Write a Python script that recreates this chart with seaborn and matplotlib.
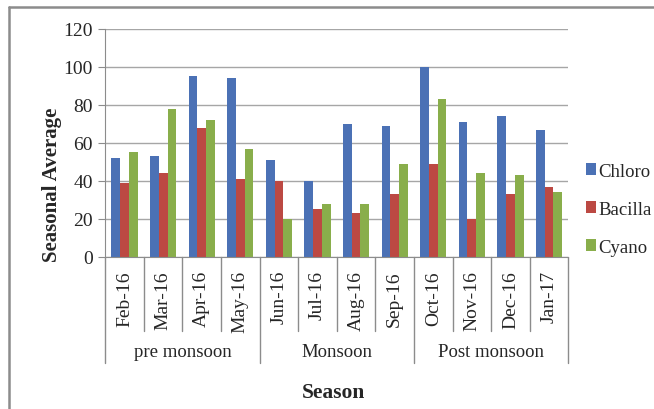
import pandas as pd
import matplotlib.pyplot as plt
import matplotlib.transforms as mtransforms
from matplotlib.lines import Line2D
import seaborn as sns

months = ['Feb-16', 'Mar-16', 'Apr-16', 'May-16', 'Jun-16', 'Jul-16',
          'Aug-16', 'Sep-16', 'Oct-16', 'Nov-16', 'Dec-16', 'Jan-17']
seasons = ['pre monsoon', 'Monsoon', 'Post monsoon']
chloro = [52, 53, 95, 94, 51, 40, 70, 69, 100, 71, 74, 67]
bacilla = [39, 44, 68, 41, 40, 25, 23, 33, 49, 20, 33, 37]
cyano = [55, 78, 72, 57, 20, 28, 28, 49, 83, 44, 43, 34]

df = pd.DataFrame({'Month': months, 'Chloro': chloro,
                   'Bacilla': bacilla, 'Cyano': cyano})
long = df.melt(id_vars='Month', var_name='Group', value_name='Value')

sns.set_style('white')
plt.rcParams['font.family'] = ['Liberation Serif', 'DejaVu Serif']

fig = plt.figure(figsize=(6.54, 4.10), dpi=100)
ax = fig.add_axes([0.161, 0.371, 0.708, 0.556])

colors = ['#3A6CC6', '#D0372F', '#8DBE3B']
sns.barplot(data=long, x='Month', y='Value', hue='Group', order=months,
            palette=colors, width=0.68, gap=0.0, edgecolor='none', ax=ax)

ax.set_ylim(0, 120)
ax.set_xlim(-0.5, len(months) - 0.5)
ax.set_yticks(range(0, 121, 20))
ax.yaxis.grid(True, color='#A6A6A6', linewidth=1)
ax.set_axisbelow(True)
for s in ['top', 'right']:
    ax.spines[s].set_visible(False)
ax.spines['left'].set_color('#8C8C8C')
ax.spines['bottom'].set_color('#8C8C8C')
ax.tick_params(axis='y', left=True, length=5, color='#8C8C8C', labelsize=14, pad=4)
ax.tick_params(axis='x', bottom=False, labelsize=14, pad=6)
plt.setp(ax.get_xticklabels(), rotation=90)
ax.set_xlabel('')
ax.set_ylabel('')
ax.text(-0.1145, 0.32, 'Seasonal Average', transform=ax.transAxes,
        rotation=90, ha='center', va='center', fontsize=15, fontweight='bold')

# category separators
trans = mtransforms.blended_transform_factory(ax.transData, ax.transAxes)
for i in range(len(months) + 1):
    x = i - 0.5
    bottom = -0.465 if i % 4 == 0 else -0.325
    ax.add_line(Line2D([x, x], [0, bottom], transform=trans, color='#8C8C8C',
                       linewidth=1, clip_on=False))
for j, s in enumerate(seasons):
    ax.text(j * 4 + 1.5, -0.415, s, transform=trans, ha='center', va='center',
            fontsize=13.5)
ax.text(0.4924, -0.592, 'Season', transform=ax.transAxes, ha='center',
        va='center', fontsize=15.5, fontweight='bold')

leg = ax.legend(loc='center left', bbox_to_anchor=(1.0, 0.21), frameon=False,
                fontsize=13.5, handlelength=0.55, handleheight=0.55,
                handletextpad=0.1, labelspacing=1.12, borderaxespad=0.55)

# outer border (top and left visible)
fig.add_artist(Line2D([0.013, 0.013], [0, 0.98], transform=fig.transFigure,
                      color='#8C8C8C', linewidth=1.8))
fig.add_artist(Line2D([0.013, 1.0], [0.98, 0.98], transform=fig.transFigure,
                      color='#8C8C8C', linewidth=1.8))

fig.savefig('out.png', dpi=100)
